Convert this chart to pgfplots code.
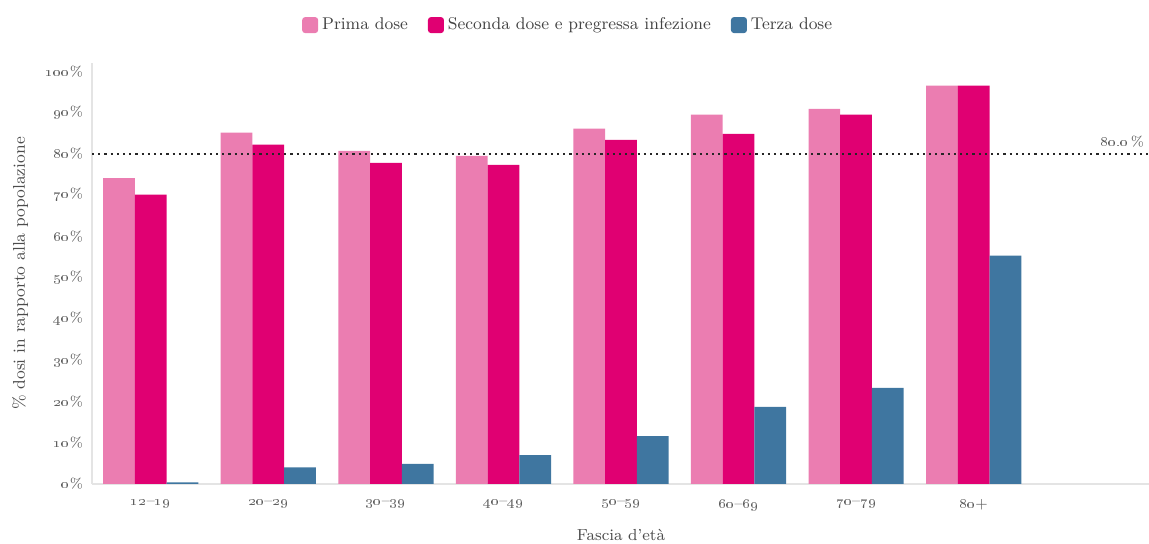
\documentclass[border=0pt]{standalone}
\usepackage{pgfplots}
\pgfplotsset{compat=1.18}
\definecolor{cPrima}{RGB}{235,125,177}
\definecolor{cSeconda}{RGB}{224,0,114}
\definecolor{cTerza}{RGB}{63,118,160}
\definecolor{txt}{RGB}{95,95,95}
\definecolor{axl}{RGB}{228,228,228}
\newcommand{\os}[1]{\oldstylenums{#1}}
\pgfplotsset{sqleg/.style={legend image code/.code={\fill[##1,draw=none,rounded corners=1.5pt] (0pt,-4pt) rectangle (8pt,4pt);}}}
\begin{document}
\begin{tikzpicture}
\useasboundingbox (0pt,0pt) rectangle (574.5pt,272pt);
\begin{axis}[
  at={(46pt,30pt)}, anchor=south west, scale only axis,
  width=529pt, height=210.5pt,
  xmin=-0.5, xmax=8.5, ymin=0, ymax=102,
  axis x line*=bottom, axis y line*=left,
  axis line style={axl, line width=0.6pt},
  major tick length=0pt,
  xtick={0,...,7},
  xticklabels={\os{12}--\os{19},\os{20}--\os{29},\os{30}--\os{39},\os{40}--\os{49},\os{50}--\os{59},\os{60}--\os{69},\os{70}--\os{79},\os{80}+},
  ytick={0,10,...,100},
  yticklabels={\os{0}\%,\os{10}\%,\os{20}\%,\os{30}\%,\os{40}\%,\os{50}\%,\os{60}\%,\os{70}\%,\os{80}\%,\os{90}\%,\os{100}\%},
  tick label style={font=\fontsize{7}{8}\selectfont, text=txt},
  xticklabel style={yshift=-4pt, font=\fontsize{7.5}{8}\selectfont},
  yticklabel style={xshift=-1pt},
  xlabel={Fascia d'età},
  xlabel style={at={(axis description cs:0.5,-0.12)}, anchor=center, font=\fontsize{8}{9}\selectfont, text=txt!80!black},
  ylabel={\% dosi in rapporto alla popolazione},
  ylabel style={at={(axis description cs:-0.068,0.5)}, anchor=center, font=\fontsize{8.5}{10}\selectfont, text=txt!80!black},
  legend style={at={(0.451,1)}, anchor=south, yshift=11pt, draw=none, fill=none,
    legend columns=-1, font=\fontsize{8.5}{10}\selectfont, text=txt!70!black,
    /tikz/every even column/.append style={column sep=8pt}},
  clip=false,
]
\addplot[ybar, bar width=0.27, bar shift=-0.27, fill=cPrima, draw=none, sqleg]
  coordinates {(0,74.1) (1,85.1) (2,80.7) (3,79.5) (4,86.1) (5,89.5) (6,90.9) (7,96.5)};
\addlegendentry{Prima dose}
\addplot[ybar, bar width=0.27, bar shift=0, fill=cSeconda, draw=none, sqleg]
  coordinates {(0,70.1) (1,82.2) (2,77.8) (3,77.3) (4,83.4) (5,84.8) (6,89.5) (7,96.5)};
\addlegendentry{Seconda dose e pregressa infezione}
\addplot[ybar, bar width=0.27, bar shift=0.27, fill=cTerza, draw=none, sqleg]
  coordinates {(0,0.4) (1,4.0) (2,4.9) (3,7.0) (4,11.6) (5,18.7) (6,23.3) (7,55.3)};
\addlegendentry{Terza dose}
\addplot[black!85, dotted, line width=1.1pt, forget plot] coordinates {(-0.5,80) (8.5,80)};
\node[anchor=south east, font=\fontsize{7}{8}\selectfont, text=txt, inner sep=1pt] at (axis cs:8.47,81) {\os{80.0}\,\%};
\end{axis}
\end{tikzpicture}
\end{document}
